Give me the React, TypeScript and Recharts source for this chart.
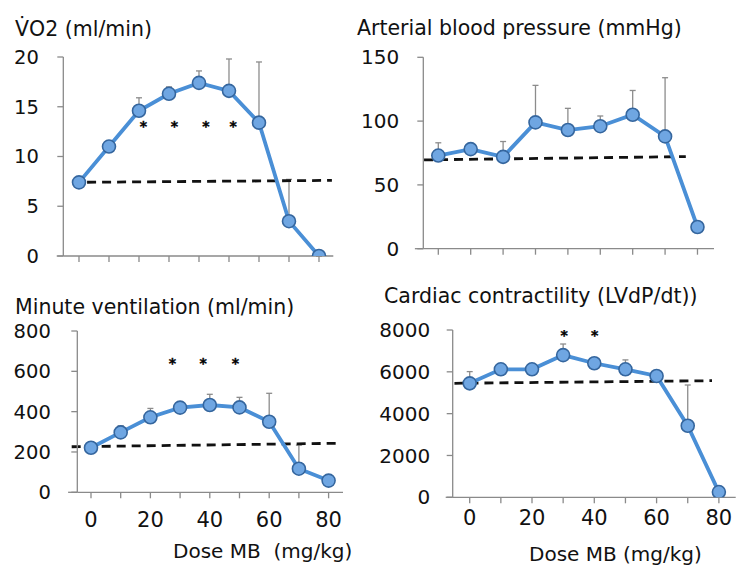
import React from 'react';
import { ComposedChart, Line, Scatter, XAxis, YAxis, ErrorBar, ReferenceLine } from 'recharts';

const doses = [0, 10, 20, 30, 40, 50, 60, 70, 80];

const vo2 = [7.4, 11.0, 14.6, 16.3, 17.4, 16.6, 13.4, 3.5, 0.0];
const vo2Err = [0, 0, 1.3, 0.7, 1.2, 3.2, 6.1, 4.2, 0];
const vo2Base = [{ x: -2.3, y: 7.4 }, { x: 84.3, y: 7.6 }];
const vo2StarX = [21.5, 31.8, 42.3, 51.4];
const vo2StarY = 13.4;
const vo2Ticks = [0, 5, 10, 15, 20];

const abp = [73, 78, 72, 99, 93, 96, 105, 88, 17];
const abpErr = [10, 0, 12, 29, 17, 8, 19, 46, 0];
const abpBase = [{ x: -4.4, y: 69.6 }, { x: 76.4, y: 72.2 }];
const abpTicks = [0, 50, 100, 150];

const mv = [221, 297, 372, 420, 433, 421, 350, 117, 58];
const mvErr = [0, 33, 44, 29, 53, 50, 141, 117, 24];
const mvBase = [{ x: -6.5, y: 226 }, { x: 82.5, y: 243 }];
const mvStarX = [27.4, 37.8, 48.6];
const mvStarY = 659;
const mvTicks = [0, 200, 400, 600, 800];

const cc = [5450, 6120, 6120, 6800, 6410, 6120, 5800, 3420, 250];
const ccErr = [560, 0, 0, 530, 0, 450, 0, 1950, 0];
const ccBase = [{ x: -4.9, y: 5451 }, { x: 77.8, y: 5576 }];
const ccStarX = [30.3, 40.1];
const ccStarY = 7920;
const ccTicks = [0, 2000, 4000, 6000, 8000];

const FONT = 'DejaVu Sans, sans-serif';
const AXIS = '#8a8a8a';
const LINE = '#4a8fd6';

const StarShape = (props: any) => {
  const { cx, cy } = props;
  return (
    <text
      x={cx}
      y={cy + 8.4}
      textAnchor="middle"
      fontSize={14}
      fontWeight="bold"
      fontFamily={FONT}
      fill="#000"
      stroke="#000"
      strokeWidth={0.4}
    >
      *
    </text>
  );
};

const Dot = (props: any) => {
  const { cx, cy } = props;
  if (cx == null || cy == null) return null;
  return <circle cx={cx} cy={cy} r={6.5} fill="#6fa6e2" stroke="#35669e" strokeWidth={1.6} />;
};

type PanelProps = {
  left: number; top: number; width: number; height: number;
  margin: { top: number; right: number; bottom: number; left: number };
  yWidth: number; xAxisHeight: number;
  xDomain: [number, number]; yDomain: [number, number]; yTicks: number[];
  values: number[]; errs: number[]; base: { x: number; y: number }[];
  starX?: number[]; starY?: number;
  xLabels: boolean; yTickMargin: number; xTickMargin: number;
  yFont: number; xFont: number; ext: number;
};

function Panel(p: PanelProps) {
  const data = doses.map((d, i) => ({ dose: d, v: p.values[i], err: [0, p.errs[i]] }));
  const stars = (p.starX || []).map((x) => ({ dose: x, v: p.starY }));
  return (
    <div style={{ position: 'absolute', left: p.left, top: p.top, width: p.width, height: p.height }}>
      <ComposedChart width={p.width} height={p.height} data={data} margin={p.margin}>
        <XAxis
          type="number"
          dataKey="dose"
          domain={p.xDomain}
          ticks={doses}
          allowDataOverflow
          height={p.xAxisHeight}
          tickSize={6}
          tickMargin={p.xTickMargin}
          axisLine={{ stroke: AXIS, strokeWidth: 1.3 }}
          tickLine={{ stroke: AXIS, strokeWidth: 1.3 }}
          tick={{ fill: '#111', fontSize: p.xFont, fontFamily: FONT }}
          tickFormatter={(v: number) => (p.xLabels && v % 20 === 0 ? String(v) : '')}
        />
        <YAxis
          type="number"
          domain={p.yDomain}
          ticks={p.yTicks}
          allowDataOverflow
          width={p.yWidth}
          tickSize={6}
          tickMargin={p.yTickMargin}
          axisLine={{ stroke: AXIS, strokeWidth: 1.3 }}
          tickLine={{ stroke: AXIS, strokeWidth: 1.3 }}
          tick={{ fill: '#111', fontSize: p.yFont, fontFamily: FONT }}
        />
        <ReferenceLine
          segment={[{ x: p.xDomain[0] - p.ext, y: p.yDomain[0] }, { x: p.xDomain[0], y: p.yDomain[0] }]}
          stroke={AXIS}
          strokeWidth={1.3}
          ifOverflow="visible"
        />
        <Line
          dataKey="v"
          stroke="none"
          dot={false}
          activeDot={false}
          isAnimationActive={false}
          legendType="none"
        >
          <ErrorBar dataKey="err" width={3} stroke="#8c8c8c" strokeWidth={1.3} direction="y" />
        </Line>
        <ReferenceLine
          segment={p.base}
          stroke="#111"
          strokeWidth={2.8}
          strokeDasharray="9 6"
          ifOverflow="visible"
        />
        <Line
          dataKey="v"
          stroke={LINE}
          strokeWidth={3.8}
          dot={<Dot />}
          activeDot={false}
          isAnimationActive={false}
        />
        {stars.length > 0 && (
          <Scatter data={stars} dataKey="v" shape={<StarShape />} isAnimationActive={false} />
        )}
      </ComposedChart>
    </div>
  );
}

export default function App() {
  return (
    <div style={{ position: 'absolute', left: 0, top: 0, width: 748, height: 578, background: '#fff' }}>
      <Panel
        left={0} top={0} width={374} height={280}
        margin={{ top: 57, right: 40.7, bottom: 14, left: 13.3 }}
        yWidth={50} xAxisHeight={10}
        xDomain={[-5.23, 84.77]} yDomain={[0, 20]} yTicks={vo2Ticks}
        values={vo2} errs={vo2Err} base={vo2Base}
        starX={vo2StarX} starY={vo2StarY}
        xLabels={false} yTickMargin={18.5} xTickMargin={4}
        yFont={19.5} xFont={21} ext={2.2}
      />
      <Panel
        left={344} top={0} width={404} height={280}
        margin={{ top: 57.3, right: 34, bottom: 21.3, left: 39.3 }}
        yWidth={40} xAxisHeight={10}
        xDomain={[-4.63, 85.1]} yDomain={[0, 150]} yTicks={abpTicks}
        values={abp} errs={abpErr} base={abpBase}
        xLabels={false} yTickMargin={18} xTickMargin={4}
        yFont={20} xFont={21} ext={2.6}
      />
      <Panel
        left={0} top={280} width={374} height={298}
        margin={{ top: 51, right: 31, bottom: 45.7, left: 17.3 }}
        yWidth={60} xAxisHeight={40}
        xDomain={[-4.61, 84.85]} yDomain={[0, 800]} yTicks={mvTicks}
        values={mv} errs={mvErr} base={mvBase}
        starX={mvStarX} starY={mvStarY}
        xLabels={true} yTickMargin={20.5} xTickMargin={14}
        yFont={19.5} xFont={21} ext={3.1}
      />
      <Panel
        left={354} top={280} width={394} height={298}
        margin={{ top: 50, right: 12.3, bottom: 40.7, left: 38.7 }}
        yWidth={60} xAxisHeight={40}
        xDomain={[-5.46, 85.4]} yDomain={[0, 8000]} yTicks={ccTicks}
        values={cc} errs={ccErr} base={ccBase}
        starX={ccStarX} starY={ccStarY}
        xLabels={true} yTickMargin={16.5} xTickMargin={6.5}
        yFont={20} xFont={21} ext={2.25}
      />
      <svg
        width={748}
        height={578}
        style={{ position: 'absolute', left: 0, top: 0, pointerEvents: 'none' }}
        fontFamily={FONT}
      >
        <text x={15} y={35.5} fontSize={20.5} fill="#111">V̇O2 (ml/min)</text>
        <text x={357} y={34.5} fontSize={20.5} fill="#111">Arterial blood pressure (mmHg)</text>
        <text x={15} y={314} fontSize={20.5} fill="#111">Minute ventilation (ml/min)</text>
        <text x={384} y={303} fontSize={20.5} fill="#111">Cardiac contractility (LVdP/dt))</text>
        <text x={173} y={558} fontSize={20} fill="#111" style={{ whiteSpace: 'pre' }} xmlSpace="preserve">Dose MB  (mg/kg)</text>
        <text x={529} y={561} fontSize={20} fill="#111">Dose MB (mg/kg)</text>
      </svg>
    </div>
  );
}
